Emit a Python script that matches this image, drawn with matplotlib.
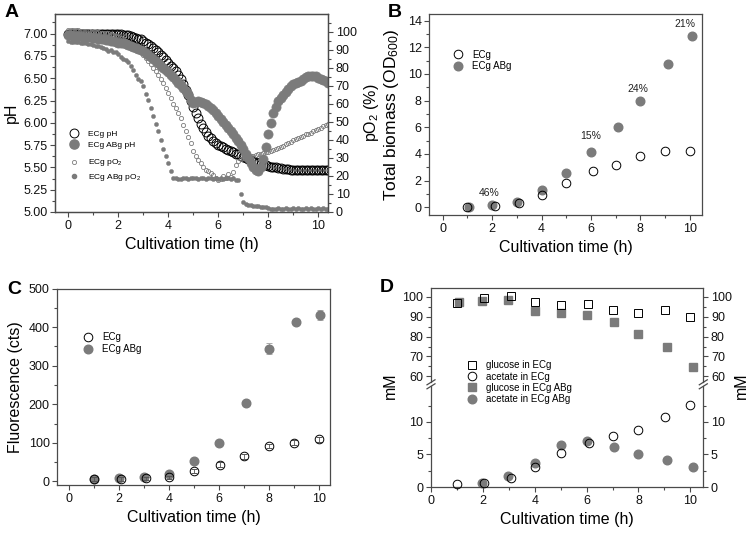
import numpy as np
import matplotlib
matplotlib.use('Agg')
import matplotlib.pyplot as plt
from matplotlib.lines import Line2D
from matplotlib.ticker import MultipleLocator, FormatStrFormatter, FixedLocator

plt.rcParams['font.family'] = ['Liberation Sans', 'DejaVu Sans']
plt.rcParams['mathtext.default'] = 'regular'

# ---------------- data ----------------
# Panel A (sampled every 0.1 h from 0 to 10.4 h)
t_A = np.round(np.arange(0, 10.45, 0.1), 1)
ph_ecg = [7.00] * 21 + [
    6.995, 6.99, 6.985, 6.98, 6.975, 6.965, 6.955, 6.945, 6.935, 6.92,
    6.90, 6.885, 6.865, 6.84, 6.815, 6.79, 6.765, 6.735, 6.705, 6.67,
    6.64, 6.61, 6.58, 6.54, 6.49, 6.43, 6.37, 6.31, 6.245, 6.18,
    6.11, 6.05, 5.99, 5.94, 5.895, 5.855, 5.825, 5.80, 5.775, 5.755,
    5.74, 5.725, 5.71, 5.695, 5.68, 5.67, 5.655, 5.645, 5.63, 5.62,
    5.61, 5.595, 5.585, 5.57, 5.56, 5.55, 5.54, 5.53, 5.525, 5.515,
    5.51, 5.505, 5.50, 5.495, 5.49, 5.485, 5.48, 5.48, 5.475, 5.475] + [5.47] * 14
ph_abg = [
    6.98, 6.98, 6.975, 6.975, 6.97, 6.97, 6.965, 6.965, 6.96, 6.96, 6.955,
    6.95, 6.945, 6.94, 6.935, 6.93, 6.925, 6.92, 6.915, 6.91, 6.90,
    6.895, 6.89, 6.885, 6.875, 6.865, 6.855, 6.84, 6.83, 6.815, 6.80,
    6.78, 6.76, 6.74, 6.715, 6.69, 6.665, 6.64, 6.615, 6.59, 6.565,
    6.535, 6.51, 6.48, 6.45, 6.42, 6.39, 6.355, 6.32, 6.26, 6.225,
    6.235, 6.24, 6.235, 6.225, 6.21, 6.19, 6.165, 6.14, 6.11, 6.08,
    6.045, 6.01, 5.975, 5.94, 5.905, 5.87, 5.835, 5.795, 5.755, 5.705,
    5.65, 5.60, 5.55, 5.505, 5.475, 5.46, 5.50, 5.59, 5.73, 5.87,
    6.00, 6.11, 6.18, 6.24, 6.28, 6.31, 6.34, 6.38, 6.41, 6.43,
    6.445, 6.46, 6.47, 6.49, 6.51, 6.525, 6.53, 6.53, 6.52, 6.505,
    6.49, 6.48, 6.465, 6.45]
po2_ecg = [
    101, 101, 101, 101, 101, 100.5, 100.5, 100.5, 100.5, 100, 100,
    100, 100, 99.5, 99.5, 99, 99, 98.5, 98, 97.5, 97,
    96.5, 96, 95, 94, 93, 92, 91, 89.5, 88.5, 87,
    85.5, 84, 82, 80, 78, 76, 74, 71.5, 69, 66,
    63, 60, 57.5, 55, 52, 48.5, 45, 41.5, 38, 34,
    31, 29, 27, 25, 23.5, 22.5, 21.5, 20.5, 19, 18,
    18.5, 20, 19, 21, 19.5, 22, 26, 28.5, 29.5, 30,
    30.5, 30.5, 31, 31, 31.5, 32, 32, 32.5, 33, 33.5,
    34, 34.5, 35, 35.5, 36, 36.5, 37.5, 38, 39, 40,
    40.5, 41, 41.5, 42, 43, 43.5, 44, 45, 45.5, 46,
    46.5, 47.5, 48, 49]
po2_abg = [
    95, 94.5, 94.5, 94, 94, 93.5, 93.5, 93.5, 93, 93, 92.5,
    92, 92, 91.5, 91, 90.5, 89.5, 90, 89, 88.5, 87.5,
    86, 85, 84.5, 83, 81, 78.5, 76, 74, 72.5, 70,
    65.5, 62, 57.5, 53, 49, 45, 40, 35, 31, 27,
    22.5, 19, 19, 18.5, 18.5, 19, 19, 18.5, 19, 19,
    19, 18.5, 19, 19, 18.5, 19, 19, 18.5, 19, 18.5,
    19, 18.5, 19, 19, 18.5, 19, 18, 17.5, 10, 5.5,
    4.5, 4, 4, 3.5, 3.5, 3.5, 3, 3, 2.5, 2,
    1.5, 1.5, 1.5, 2, 1.5, 1.5, 2, 1.5, 1.5, 2,
    1.5, 2, 1.5, 1.5, 2, 1.5, 2, 1.5, 1.5, 2,
    1.5, 2, 1.5, 1.5]

# Panel B
t_B_ecg = [1.0, 2.1, 3.1, 4.0, 5.0, 6.1, 7.0, 8.0, 9.0, 10.0]
od_ecg = [0.02, 0.1, 0.3, 0.9, 1.85, 2.75, 3.15, 3.85, 4.2, 4.25]
t_B_abg = [1.05, 2.0, 3.0, 4.0, 5.0, 6.0, 7.1, 8.0, 9.1, 10.1]
od_abg = [0.05, 0.15, 0.43, 1.3, 2.6, 4.18, 6.0, 8.0, 10.75, 12.85]
pct_idx = [1, 5, 7, 9]
pct_labels = ['46%', '15%', '24%', '21%']

# Panel C
t_C_ecg = [1.0, 2.06, 3.08, 4.0, 5.0, 6.04, 7.0, 8.0, 9.0, 10.0]
fl_ecg = [6, 6, 8, 10, 26, 43, 65, 92, 100, 109]
err_ecg = [4, 4, 4, 4, 5, 6, 6, 6, 6, 7]
t_C_abg = [1.0, 2.0, 3.0, 4.0, 5.0, 6.0, 7.07, 8.0, 9.07, 10.04]
fl_abg = [6, 9, 10, 20, 52, 100, 203, 344, 413, 432]
err_abg = [3, 3, 3, 3, 4, 5, 6, 14, 8, 14]

# Panel D
t_glc_ecg = [1.0, 2.06, 3.07, 4.0, 5.0, 6.06, 7.0, 8.0, 9.03, 10.0]
glc_ecg = [97.1, 99.6, 100.5, 97.5, 95.8, 96.3, 93.3, 91.9, 93.3, 89.9]
t_glc_abg = [1.07, 1.97, 2.97, 4.0, 5.0, 6.0, 7.07, 8.0, 9.1, 10.1]
glc_abg = [97.6, 97.8, 98.3, 92.9, 91.8, 91.1, 87.4, 81.5, 74.8, 64.7]
t_ace_ecg = [1.0, 2.06, 3.07, 4.0, 5.0, 6.1, 7.0, 8.0, 9.03, 10.0]
ace_ecg = [0.45, 0.6, 1.4, 3.0, 5.2, 6.8, 7.8, 8.7, 10.8, 12.6]
t_ace_abg = [1.97, 2.97, 4.0, 5.0, 6.0, 7.07, 8.0, 9.1, 10.1]
ace_abg = [0.6, 1.7, 3.7, 6.5, 7.0, 6.2, 5.1, 4.2, 3.0]
d_low_ticks = [0, 5, 10]
d_low_minor = [2.5, 7.5, 12.5]

# ---------------- style ----------------
GRAY = '#7b7b7b'
SPINE = '#4a4a4a'
TICKFS = 9
LABFS = 11.5
W, H = 750, 535


def fr(left, top, right, bottom):
    return [left / W, 1 - bottom / H, (right - left) / W, (bottom - top) / H]


def style(ax, xmaj=2, xmin=1, ymaj=None, ymin=None):
    for s in ax.spines.values():
        s.set_color(SPINE)
        s.set_linewidth(0.9)
    ax.tick_params(which='both', direction='out', color=SPINE, width=0.8,
                   labelsize=TICKFS, pad=2, labelcolor='#111111')
    ax.tick_params(which='major', length=3.5)
    ax.tick_params(which='minor', length=2)
    if xmaj:
        ax.xaxis.set_major_locator(MultipleLocator(xmaj))
        ax.xaxis.set_minor_locator(MultipleLocator(xmin))
    if ymaj:
        ax.yaxis.set_major_locator(MultipleLocator(ymaj))
        ax.yaxis.set_minor_locator(MultipleLocator(ymin))


fig = plt.figure(figsize=(7.5, 5.35), dpi=100)

# ---------------- Panel A ----------------
axA = fig.add_axes(fr(55, 14, 328, 212))
axA.plot(t_A, ph_ecg, 'o', ms=6.4, mfc='none', mec='black', mew=0.7)
axA.plot(t_A, ph_abg, 'o', ms=6.6, mfc=GRAY, mec=GRAY, mew=0.5)
axA.set_xlim(-0.53, 10.4)
axA.set_ylim(5.0, 7.22)
style(axA, 2, 1, 0.25, 0.125)
axA.yaxis.set_major_formatter(FormatStrFormatter('%.2f'))
axA.set_xlabel('Cultivation time (h)', fontsize=LABFS)
axA.set_ylabel('pH', fontsize=LABFS, labelpad=3)
axA2 = axA.twinx()
axA2.plot(t_A, po2_ecg, 'o', ms=3.0, mfc='none', mec=GRAY, mew=0.6)
axA2.plot(t_A, po2_abg, 'o', ms=3.0, mfc=GRAY, mec=GRAY, mew=0.3)
axA2.set_ylim(0, 109.8)
style(axA2, None, None, 10, 5)
axA2.set_ylabel('pO$_2$ (%)', fontsize=LABFS, labelpad=4)
hA1 = [Line2D([], [], ls='none', marker='o', ms=6.4, mfc='none', mec='black', mew=0.7),
       Line2D([], [], ls='none', marker='o', ms=6.6, mfc=GRAY, mec=GRAY)]
hA2 = [Line2D([], [], ls='none', marker='o', ms=3.0, mfc='none', mec=GRAY, mew=0.6),
       Line2D([], [], ls='none', marker='o', ms=3.0, mfc=GRAY, mec=GRAY)]
legA1 = axA2.legend(hA1, ['ECg pH', 'ECg ABg pH'], loc='upper left',
                    bbox_to_anchor=(70 / W, 1 - 130.5 / H), bbox_transform=fig.transFigure,
                    frameon=False, fontsize=6, borderpad=0, handlelength=1.0,
                    handletextpad=1.1, labelspacing=0.35, borderaxespad=0)
axA2.add_artist(legA1)
axA2.legend(hA2, ['ECg pO$_2$', 'ECg ABg pO$_2$'], loc='upper left',
            bbox_to_anchor=(70 / W, 1 - 157.5 / H), bbox_transform=fig.transFigure,
            frameon=False, fontsize=6, borderpad=0, handlelength=1.0,
            handletextpad=1.1, labelspacing=0.45, borderaxespad=0)

# ---------------- Panel B ----------------
axB = fig.add_axes(fr(429.3, 14, 701.7, 215))
axB.plot(t_B_abg, od_abg, 'o', ms=6.2, mfc=GRAY, mec=GRAY)
axB.plot(t_B_ecg, od_ecg, 'o', ms=6.2, mfc='none', mec='black', mew=0.7)
pct_off = [(-2, 9), (0, 11), (-2, 8.5), (-5, 8.5)]
for i, lab, off in zip(pct_idx, pct_labels, pct_off):
    axB.annotate(lab, (t_B_abg[i], od_abg[i]), xytext=off, textcoords='offset points',
                 ha='center', va='center', fontsize=7.5, color='#222222')
axB.set_xlim(-0.54, 10.48)
axB.set_ylim(-0.58, 14.5)
style(axB, 2, 1, 2, 1)
axB.set_xlabel('Cultivation time (h)', fontsize=LABFS)
axB.set_ylabel('Total biomass (OD$_{600}$)', fontsize=12.5, labelpad=5)
hB = [Line2D([], [], ls='none', marker='o', ms=6.2, mfc='none', mec='black', mew=0.7),
      Line2D([], [], ls='none', marker='o', ms=6.2, mfc=GRAY, mec=GRAY)]
axB.legend(hB, ['ECg', 'ECg ABg'], loc='upper left',
           bbox_to_anchor=(452.8 / W, 1 - 49.5 / H), bbox_transform=fig.transFigure,
           frameon=False, fontsize=7, borderpad=0, handlelength=1.0,
           handletextpad=1.0, labelspacing=0.2, borderaxespad=0)

# ---------------- Panel C ----------------
axC = fig.add_axes(fr(57.3, 288.7, 330, 485.3))
axC.errorbar(t_C_abg, fl_abg, yerr=err_abg, fmt='o', ms=6.2, mfc=GRAY, mec=GRAY,
             ecolor='#aaaaaa', elinewidth=0.7, capsize=2, capthick=0.7, zorder=2)
axC.errorbar(t_C_ecg, fl_ecg, yerr=err_ecg, fmt='o', ms=6.2, mfc='none', mec='black',
             mew=0.7, ecolor='#555555', elinewidth=0.6, capsize=2, capthick=0.6, zorder=3)
axC.set_xlim(-0.48, 10.45)
axC.set_ylim(-10.4, 500)
style(axC, 2, 1, 100, 50)
axC.set_xlabel('Cultivation time (h)', fontsize=LABFS)
axC.set_ylabel('Fluorescence (cts)', fontsize=LABFS, labelpad=4)
hC = [Line2D([], [], ls='none', marker='o', ms=6.2, mfc='none', mec='black', mew=0.7),
      Line2D([], [], ls='none', marker='o', ms=6.2, mfc=GRAY, mec=GRAY)]
axC.legend(hC, ['ECg', 'ECg ABg'], loc='upper left',
           bbox_to_anchor=(83.4 / W, 1 - 332.5 / H), bbox_transform=fig.transFigure,
           frameon=False, fontsize=7, borderpad=0, handlelength=1.0,
           handletextpad=0.9, labelspacing=0.2, borderaxespad=0)

# ---------------- Panel D (broken axis) ----------------
dL, dR = 431.0, 703.3
gap_top, gap_bot = 382.3, 386.3
axDU = fig.add_axes(fr(dL, 288, dR, gap_top))
axDL = fig.add_axes(fr(dL, gap_bot, dR, 487))
axDU.plot(t_glc_ecg, glc_ecg, 's', ms=5.2, mfc='none', mec='black', mew=0.7, zorder=3)
axDU.plot(t_glc_abg, glc_abg, 's', ms=5.2, mfc=GRAY, mec=GRAY, zorder=2)
axDL.plot(t_ace_abg, ace_abg, 'o', ms=6.2, mfc=GRAY, mec=GRAY, zorder=2, clip_on=False)
axDL.plot(t_ace_ecg, ace_ecg, 'o', ms=6.2, mfc='none', mec='black', mew=0.7, zorder=3,
          clip_on=False)
for ax in (axDU, axDL):
    ax.set_xlim(0, 10.5)
style(axDU, 2, 1, 10, 5)
style(axDL, 2, 1, None, None)
axDL.yaxis.set_major_locator(FixedLocator(d_low_ticks))
axDL.yaxis.set_minor_locator(FixedLocator(d_low_minor))
axDU.set_ylim(56.97, 104.5)
axDL.set_ylim(0, 15.49)
axDU.spines['bottom'].set_visible(False)
axDL.spines['top'].set_visible(False)
axDU.tick_params(axis='x', which='both', bottom=False, labelbottom=False)
for ax in (axDU, axDL):
    ax.tick_params(axis='y', which='both', left=True, right=True,
                   labelleft=True, labelright=True)
axDL.set_xlabel('Cultivation time (h)', fontsize=LABFS)
fig.text(390.3 / W, 1 - 386 / H, 'mM', rotation=90, ha='center', va='center', fontsize=LABFS)
fig.text(741.7 / W, 1 - 386 / H, 'mM', rotation=90, ha='center', va='center', fontsize=LABFS)
# break marks
for xs in (dL, dR):
    for ys in (gap_top, gap_bot):
        fig.add_artist(Line2D([(xs - 4) / W, (xs + 4) / W],
                              [1 - (ys + 2.5) / H, 1 - (ys - 2.5) / H],
                              transform=fig.transFigure, color=SPINE, lw=0.9))
hD = [Line2D([], [], ls='none', marker='s', ms=5.2, mfc='none', mec='black', mew=0.7),
      Line2D([], [], ls='none', marker='o', ms=6.2, mfc='none', mec='black', mew=0.7),
      Line2D([], [], ls='none', marker='s', ms=5.2, mfc=GRAY, mec=GRAY),
      Line2D([], [], ls='none', marker='o', ms=6.2, mfc=GRAY, mec=GRAY)]
fig.legend(hD, ['glucose in ECg', 'acetate in ECg', 'glucose in ECg ABg', 'acetate in ECg ABg'],
           loc='upper left', bbox_to_anchor=(466.8 / W, 1 - 360.5 / H),
           bbox_transform=fig.transFigure, frameon=False, fontsize=7, borderpad=0,
           handlelength=1.0, handletextpad=1.0, labelspacing=0.12, borderaxespad=0)

# ---------------- panel letters ----------------
for lab, x, y in [('A', 5, 17), ('B', 388, 17), ('C', 7, 293.5), ('D', 380, 292)]:
    fig.text(x / W, 1 - y / H, lab, fontsize=14, fontweight='bold', va='baseline', ha='left')

fig.savefig('out.png', dpi=100)
